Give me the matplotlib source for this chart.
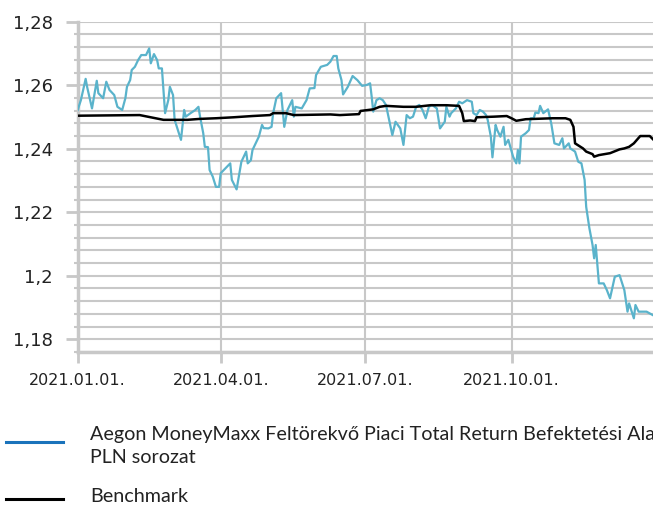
import matplotlib
matplotlib.use("Agg")
import matplotlib.pyplot as plt
from matplotlib.ticker import MultipleLocator
from matplotlib.lines import Line2D
import pandas as pd

fund_dates = ["2021-01-01","2021-01-03","2021-01-06","2021-01-07","2021-01-10","2021-01-13","2021-01-14",
"2021-01-17","2021-01-19","2021-01-21","2021-01-24","2021-01-26","2021-01-29","2021-01-31","2021-02-01",
"2021-02-03","2021-02-04","2021-02-06","2021-02-08","2021-02-10","2021-02-13","2021-02-15","2021-02-16",
"2021-02-18","2021-02-20","2021-02-21","2021-02-23","2021-02-25","2021-02-27","2021-02-28","2021-03-02",
"2021-03-03","2021-03-05","2021-03-07","2021-03-09","2021-03-10","2021-03-13","2021-03-16","2021-03-18",
"2021-03-19","2021-03-21","2021-03-22","2021-03-24","2021-03-25","2021-03-27","2021-03-29","2021-03-31",
"2021-04-01","2021-04-07","2021-04-08","2021-04-11","2021-04-14","2021-04-17","2021-04-18","2021-04-20",
"2021-04-21","2021-04-25","2021-04-27","2021-04-28","2021-05-01","2021-05-03","2021-05-04","2021-05-06",
"2021-05-09","2021-05-11","2021-05-13","2021-05-16","2021-05-17","2021-05-18","2021-05-22","2021-05-25",
"2021-05-27","2021-05-30","2021-05-31","2021-06-03","2021-06-07","2021-06-09","2021-06-11","2021-06-13",
"2021-06-14","2021-06-16","2021-06-17","2021-06-20","2021-06-23","2021-06-26","2021-06-29","2021-07-02",
"2021-07-04","2021-07-05","2021-07-06","2021-07-08","2021-07-10","2021-07-12","2021-07-14","2021-07-16",
"2021-07-18","2021-07-20","2021-07-23","2021-07-25","2021-07-27","2021-07-29","2021-07-31","2021-08-02",
"2021-08-04","2021-08-06","2021-08-08","2021-08-10","2021-08-12","2021-08-15","2021-08-17","2021-08-20",
"2021-08-21","2021-08-23","2021-08-24","2021-08-27","2021-08-29","2021-08-31","2021-09-03","2021-09-06",
"2021-09-07","2021-09-09","2021-09-11","2021-09-13","2021-09-15","2021-09-16","2021-09-18","2021-09-19",
"2021-09-21","2021-09-22","2021-09-24","2021-09-26","2021-09-27","2021-09-29","2021-10-02","2021-10-04",
"2021-10-05","2021-10-06","2021-10-07","2021-10-10","2021-10-12","2021-10-13","2021-10-15","2021-10-16",
"2021-10-18","2021-10-19","2021-10-21","2021-10-24","2021-10-26","2021-10-28","2021-10-31","2021-11-02",
"2021-11-03","2021-11-06","2021-11-07","2021-11-10","2021-11-12","2021-11-14","2021-11-16","2021-11-17",
"2021-11-19","2021-11-21","2021-11-22","2021-11-23","2021-11-25","2021-11-28","2021-11-30","2021-12-02",
"2021-12-05","2021-12-08","2021-12-11","2021-12-13","2021-12-14","2021-12-17","2021-12-18","2021-12-20",
"2021-12-25","2021-12-29"]
fund_values = [1.2522,1.2553,1.2620,1.2593,1.2527,1.2614,1.2575,
1.2559,1.2611,1.2585,1.2569,1.2532,1.2522,1.2559,1.2595,
1.2616,1.2648,1.2658,1.2679,1.2695,1.2695,1.2716,1.2669,
1.2698,1.2679,1.2653,1.2653,1.2512,1.2553,1.2595,1.2569,
1.2491,1.2459,1.2428,1.2522,1.2501,1.2512,1.2522,1.2532,
1.2501,1.2449,1.2406,1.2405,1.2333,1.2312,1.2280,1.2280,
1.2323,1.2354,1.2302,1.2272,1.2359,1.2391,1.2354,1.2364,
1.2396,1.2438,1.2475,1.2465,1.2464,1.2469,1.2512,1.2559,
1.2575,1.2469,1.2522,1.2553,1.2501,1.2532,1.2527,1.2553,
1.2590,1.2591,1.2632,1.2658,1.2664,1.2674,1.2692,1.2692,
1.2653,1.2616,1.2571,1.2595,1.2629,1.2616,1.2598,1.2601,
1.2606,1.2564,1.2517,1.2553,1.2559,1.2553,1.2538,1.2491,
1.2443,1.2485,1.2464,1.2412,1.2506,1.2496,1.2501,1.2532,
1.2538,1.2522,1.2496,1.2532,1.2538,1.2527,1.2464,1.2485,
1.2532,1.2501,1.2512,1.2527,1.2548,1.2543,1.2553,1.2548,
1.2512,1.2506,1.2522,1.2517,1.2506,1.2491,1.2438,1.2373,
1.2475,1.2459,1.2438,1.2469,1.2412,1.2428,1.2375,1.2354,
1.2396,1.2354,1.2438,1.2449,1.2459,1.2496,1.2496,1.2514,
1.2512,1.2535,1.2512,1.2524,1.2480,1.2417,1.2412,1.2433,
1.2401,1.2417,1.2401,1.2391,1.2359,1.2354,1.2302,1.2217,
1.2150,1.2097,1.2055,1.2097,1.1976,1.1976,1.1955,1.1929,
1.1997,1.2002,1.1955,1.1887,1.1913,1.1866,1.1908,1.1887,
1.1887,1.1876]

bench_dates = ["2021-01-01","2021-02-09","2021-02-14","2021-02-19","2021-02-24","2021-03-11","2021-03-19",
"2021-03-29","2021-04-09","2021-04-21","2021-05-02","2021-05-04","2021-05-12","2021-05-17","2021-06-09",
"2021-06-15","2021-06-27","2021-06-28","2021-07-06","2021-07-10","2021-07-14","2021-07-25","2021-08-02",
"2021-08-11","2021-08-21","2021-08-29","2021-08-31","2021-09-01","2021-09-05","2021-09-08","2021-09-09",
"2021-09-20","2021-09-28","2021-10-01","2021-10-04","2021-10-10","2021-10-27","2021-11-04","2021-11-07",
"2021-11-09","2021-11-10","2021-11-15","2021-11-17","2021-11-21","2021-11-22","2021-11-25","2021-12-02",
"2021-12-08","2021-12-11","2021-12-14","2021-12-17","2021-12-21","2021-12-27","2021-12-29"]
bench_values = [1.2504,1.2506,1.2501,1.2496,1.2491,1.2491,1.2494,
1.2496,1.2499,1.2503,1.2506,1.2512,1.2512,1.2506,1.2508,
1.2506,1.2509,1.2519,1.2524,1.2532,1.2535,1.2532,1.2532,
1.2537,1.2537,1.2535,1.2512,1.2487,1.2489,1.2487,1.2499,
1.2501,1.2503,1.2496,1.2488,1.2493,1.2496,1.2496,1.2491,
1.2469,1.2417,1.2401,1.2391,1.2383,1.2375,1.2380,1.2386,
1.2398,1.2401,1.2406,1.2417,1.2440,1.2440,1.2430]

xtick_dates = ["2021-01-01", "2021-04-01", "2021-07-01", "2021-10-01"]
xtick_labels = ["2021.01.01.", "2021.04.01.", "2021.07.01.", "2021.10.01."]
ytick_values = [1.18, 1.20, 1.22, 1.24, 1.26, 1.28]
ytick_labels = ["1,18", "1,2", "1,22", "1,24", "1,26", "1,28"]

fund_label = "Aegon MoneyMaxx Feltörekvő Piaci Total Return Befektetési Alap\nPLN sorozat"
bench_label = "Benchmark"

GRID = "#c8c8c8"
W, H = 653, 505
fig = plt.figure(figsize=(W/100, H/100), dpi=100)
ax = fig.add_axes([77.7/W, 1 - 352/H, 580/W, (352-21.7)/H])

fd = pd.to_datetime(fund_dates)
bd = pd.to_datetime(bench_dates)
ax.plot(fd, fund_values, color="#5ab3cb", lw=1.6, zorder=3)
ax.plot(bd, bench_values, color="#000000", lw=1.8, zorder=4)

ax.set_xlim(pd.Timestamp("2021-01-01"), pd.Timestamp("2022-01-01"))
ax.set_ylim(1.176, 1.28)

ax.set_xticks(pd.to_datetime(xtick_dates))
ax.set_xticklabels(xtick_labels)
ax.set_yticks(ytick_values)
ax.set_yticklabels(ytick_labels)
ax.yaxis.set_minor_locator(MultipleLocator(0.004))

ax.grid(True, which="major", axis="x", color=GRID, lw=1.5)
ax.grid(True, which="both", axis="y", color=GRID, lw=1.5)
ax.set_axisbelow(True)

for s in ["top", "right"]:
    ax.spines[s].set_visible(False)
for s in ["left", "bottom"]:
    ax.spines[s].set_color(GRID)
    ax.spines[s].set_linewidth(2.5)

ax.tick_params(axis="y", which="major", length=9, width=2, color=GRID, pad=9,
               labelsize=13, labelcolor="#222222")
ax.tick_params(axis="y", which="minor", length=3, width=1.5, color=GRID)
ax.tick_params(axis="x", which="major", length=8, width=2, color=GRID, pad=7,
               labelsize=11.5, labelcolor="#222222")

# legend (drawn below the plot; the long label runs off the right edge as in the reference)
fig.add_artist(Line2D([6/W, 63/W], [1 - 441.5/H, 1 - 441.5/H], color="#1a73bb", lw=2.2))
fig.add_artist(Line2D([6/W, 63/W], [1 - 499/H, 1 - 499/H], color="#000000", lw=2.2))
fund_lines = fund_label.split("\n")
for i, line in enumerate(fund_lines):
    fig.text(90/W, 1 - (440 + 23*i)/H, line, fontsize=14.2, family="Lato", color="#222222",
             va="baseline", ha="left")
fig.text(90/W, 1 - 502/H, bench_label, fontsize=14.2, family="Lato", color="#222222",
         va="baseline", ha="left")

fig.savefig("out.png", dpi=100)
